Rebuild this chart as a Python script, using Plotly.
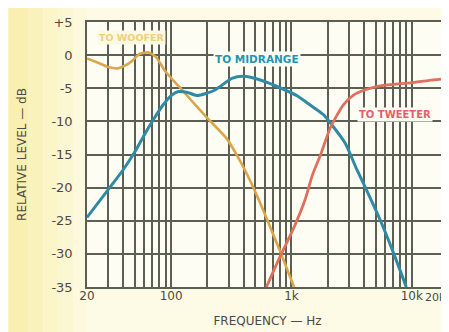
import math
import plotly.graph_objects as go

# ---- data ----
woofer_f = [20, 25, 30, 36, 45, 55, 65, 75, 90, 120, 150, 200, 290, 375, 455, 540, 650, 800, 930, 1050]
woofer_db = [-0.5, -1.2, -1.8, -2.0, -1.2, 0.2, 0.4, -0.3, -2.5, -5.0, -7.0, -9.5, -12.6, -16.0, -19.0, -22.0, -25.5, -29.5, -32.5, -35.0]

mid_f = [20, 30, 40, 50, 60, 72, 85, 100, 115, 135, 165, 230, 320, 400, 560, 820, 1130, 1450, 1850, 2100, 2800, 3500, 4000, 5500, 7100, 9000]
mid_db = [-24.5, -20.3, -17.3, -14.6, -12.0, -9.6, -7.6, -6.1, -5.5, -5.6, -6.1, -5.3, -3.5, -3.2, -3.8, -5.0, -6.2, -7.6, -9.0, -10.2, -13.3, -17.3, -19.5, -25.0, -30.0, -35.0]

tw_f = [620, 800, 1050, 1300, 1500, 1750, 2100, 2700, 3300, 4000, 5200, 7000, 9800, 14000, 20000]
tw_db = [-35.0, -30.5, -26.0, -21.8, -18.0, -15.0, -11.0, -7.5, -6.0, -5.3, -4.7, -4.4, -4.2, -3.8, -3.5]

grid_f = [20, 30, 40, 50, 60, 70, 80, 90, 100, 200, 300, 400, 500, 600, 700, 800, 900,
          1000, 2000, 3000, 4000, 5000, 6000, 7000, 8000, 9000, 10000, 20000]
label_f = {20: "20", 100: "100", 1000: "1k", 10000: "10k"}
edge_label = "20k"
y_ticks = [5, 0, -5, -10, -15, -20, -25, -30, -35]
y_text = ["+5", "0", "-5", "-10", "-15", "-20", "-25", "-30", "-35"]

FONT = "DejaVu Sans"
TEXT = "#4a4a44"
GRID = "#5c6052"

fig = go.Figure()
fig.add_trace(go.Scatter(x=woofer_f, y=woofer_db, mode="lines",
                         line=dict(color="#dba64a", width=2.6, shape="spline", smoothing=0.6)))
fig.add_trace(go.Scatter(x=mid_f, y=mid_db, mode="lines",
                         line=dict(color="#2f8aa6", width=3, shape="spline", smoothing=0.6)))
fig.add_trace(go.Scatter(x=tw_f, y=tw_db, mode="lines",
                         line=dict(color="#e0705e", width=2.8, shape="spline", smoothing=0.6)))

# left yellowish tint of the paper
shapes = []
stripes = [("#f9efb0", 0, 20), ("#faf2bd", 20, 35), ("#fbf5c8", 35, 50), ("#fcf7d3", 50, 65), ("#fdf9dd", 65, 79)]
for col, x0, x1 in stripes:
    shapes.append(dict(type="rect", xref="paper", yref="paper",
                       x0=(x0 - 79) / 363, x1=(x1 - 79) / 363, y0=-0.25, y1=1.1,
                       fillcolor=col, line=dict(width=0), layer="below"))

fig.update_layout(
    width=449, height=332,
    margin=dict(l=79, r=7, t=14, b=53),
    paper_bgcolor="#fdfae6",
    plot_bgcolor="#fefdf4",
    showlegend=False,
    shapes=shapes,
    font=dict(family=FONT, color=TEXT, size=12),
)
fig.update_xaxes(
    type="log", range=[math.log10(20), math.log10(20000)],
    tickmode="array", tickvals=grid_f,
    ticktext=[label_f.get(f, "") for f in grid_f],
    showgrid=True, gridcolor=GRID, gridwidth=1.5,
    showline=True, linecolor=GRID, linewidth=1.5, mirror=True,
    ticks="", ticklabelstandoff=-3, zeroline=False,
    tickfont=dict(size=12, color=TEXT),
    title=dict(text="FREQUENCY — Hz", font=dict(size=12, color=TEXT), standoff=14),
)
fig.update_yaxes(
    range=[-35, 5], tickmode="array", tickvals=y_ticks, ticktext=y_text,
    showgrid=True, gridcolor=GRID, gridwidth=1.5,
    showline=True, linecolor=GRID, linewidth=1.5, mirror=True,
    ticks="", ticklabelstandoff=10, zeroline=False,
    tickfont=dict(size=13, color=TEXT),
    title=dict(text="RELATIVE LEVEL — dB", font=dict(size=12, color=TEXT), standoff=22),
)

fig.add_annotation(x=1.0, y=0, xref="paper", yref="paper",
                   xanchor="right", yanchor="top", xshift=0, yshift=-2,
                   text=edge_label, showarrow=False,
                   font=dict(family=FONT, size=11, color=TEXT))

fig.add_annotation(x=math.log10(24), y=2.7, xref="x", yref="y", xanchor="left", yanchor="middle",
                   text="<b>TO WOOFER</b>", showarrow=False, bgcolor="#fdf8e0", borderpad=1,
                   font=dict(family=FONT, size=9.5, color="#eed07a"))
fig.add_annotation(x=math.log10(222), y=-0.6, xref="x", yref="y", xanchor="left", yanchor="middle",
                   text="<b>TO MIDRANGE</b>", showarrow=False, bgcolor="#fefdf4", borderpad=1,
                   font=dict(family=FONT, size=10.5, color="#1e96b0"))
fig.add_annotation(x=math.log10(3500), y=-8.9, xref="x", yref="y", xanchor="left", yanchor="middle",
                   text="<b>TO TWEETER</b>", showarrow=False, bgcolor="#fefdf4", borderpad=1,
                   font=dict(family=FONT, size=10, color="#e6606a"))

fig.write_html("out.html")
